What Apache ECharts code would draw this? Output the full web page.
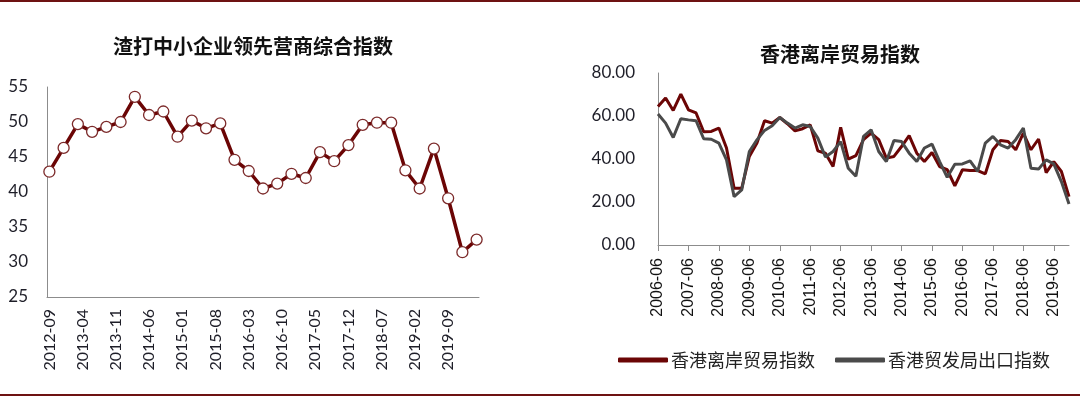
<!DOCTYPE html>
<html>
<head>
<meta charset="utf-8">
<script src="https://cdn.jsdelivr.net/npm/echarts@6/dist/echarts.min.js"></script>
<style>
  html, body { margin: 0; padding: 0; background: #fff; }
  #main { width: 1080px; height: 397px; }
</style>
</head>
<body>
<div id="main"></div>
<script>
// 渣打中小企业领先营商综合指数 (quarterly, first point 2012-09)
var smeStart = '2012-09';
var smeValues = [42.9, 46.3, 49.7, 48.6, 49.3, 50.0, 53.6, 51.0, 51.5, 47.9,
  50.2, 49.1, 49.8, 44.6, 43.0, 40.5, 41.2, 42.6, 42.0, 45.7,
  44.4, 46.7, 49.6, 49.9, 49.9, 43.1, 40.5, 46.2, 39.1, 31.4, 33.2];

// 香港离岸贸易指数 / 香港贸发局出口指数 (quarterly, first point 2006-06)
var hkStart = '2006-06';
var offshoreValues = [64.4, 68.4, 62.6, 70.2, 62.9, 61.4, 52.7, 52.8, 54.4, 45.1,
  26.4, 26.4, 41.2, 47.4, 57.8, 56.7, 59.3, 56.4, 53.1, 54.1,
  55.9, 43.8, 42.7, 36.5, 54.7, 39.9, 41.6, 49.0, 52.0, 49.0,
  40.4, 41.2, 45.8, 50.9, 42.7, 38.8, 43.0, 36.5, 35.0, 27.5,
  35.0, 34.6, 34.6, 33.1, 44.3, 48.6, 48.1, 44.3, 52.0, 44.3,
  49.3, 33.7, 38.8, 34.2, 22.5];
var exportValues = [60.9, 56.7, 50.0, 58.7, 58.2, 57.8, 49.4, 49.2, 47.4, 39.6,
  22.5, 25.6, 43.5, 48.9, 53.3, 55.5, 59.3, 56.7, 54.4, 55.9,
  55.1, 49.7, 40.9, 43.5, 48.1, 35.7, 32.0, 50.5, 53.6, 43.5,
  38.8, 48.6, 48.1, 42.7, 38.8, 45.1, 46.9, 38.8, 31.5, 37.6,
  37.7, 39.1, 34.2, 47.4, 50.5, 46.6, 45.1, 49.0, 54.4, 35.7,
  35.3, 39.6, 37.7, 29.5, 19.1];

var smeTitle = '渣打中小企业领先营商综合指数';
var hkTitle = '香港离岸贸易指数';
var seriesNames = ['香港离岸贸易指数', '香港贸发局出口指数'];

// month labels "YYYY-MM" starting at start, count items, step months
function months(start, count, step) {
  var y = +start.slice(0, 4), m = +start.slice(5, 7);
  var out = [];
  for (var i = 0; i < count; i++) {
    var t = (y * 12 + m - 1) + i * step;
    var mm = t % 12 + 1;
    out.push(Math.floor(t / 12) + '-' + (mm < 10 ? '0' + mm : mm));
  }
  return out;
}

// left chart: monthly slots, values only on quarter months
var smeMonths = months(smeStart, (smeValues.length - 1) * 3 + 1, 1);
var smeData = smeMonths.map(function () { return null; });
smeValues.forEach(function (v, i) { smeData[i * 3] = v; });

var hkQuarters = months(hkStart, offshoreValues.length, 3);

var red = '#6b0505';
var gray = '#4a4a4a';
var axisGray = '#8c8c8c';
var textColor = '#1e1e28';

var chart = echarts.init(document.getElementById('main'));
chart.setOption({
  animation: false,
  title: [{
    text: smeTitle,
    left: 248, top: 31, textAlign: 'center',
    textStyle: { fontFamily: 'Noto Sans CJK SC', fontSize: 20, fontWeight: 'bold', color: '#111' }
  }, {
    text: hkTitle,
    left: 835, top: 39, textAlign: 'center',
    textStyle: { fontFamily: 'Noto Sans CJK SC', fontSize: 20, fontWeight: 'bold', color: '#111' }
  }],
  legend: {
    data: seriesNames,
    left: 613, top: 346,
    itemWidth: 50, itemHeight: 5, itemGap: 20,
    icon: 'roundRect',
    textStyle: { fontFamily: 'Noto Sans CJK SC', fontSize: 18, color: '#222', padding: [0, 0, 0, -2] }
  },
  grid: [
    { left: 47, right: 601, top: 87, bottom: 100 },
    { left: 658, right: 11, top: 73, bottom: 152 }
  ],
  xAxis: [{
    type: 'category', gridIndex: 0, data: smeMonths, boundaryGap: true,
    axisLine: { lineStyle: { color: axisGray, width: 1 } },
    axisTick: { interval: 6, length: 6, lineStyle: { color: axisGray } },
    axisLabel: { interval: 6, rotate: 90, margin: 12, fontFamily: 'Lato', fontSize: 16, color: textColor }
  }, {
    type: 'category', gridIndex: 1, data: hkQuarters, boundaryGap: false,
    axisLine: { lineStyle: { color: axisGray, width: 1 } },
    axisTick: { interval: 3, length: 6, lineStyle: { color: axisGray } },
    axisLabel: { interval: 3, rotate: 90, margin: 13, fontFamily: 'Liberation Sans', fontSize: 16, color: '#111' }
  }],
  yAxis: [{
    type: 'value', gridIndex: 0, min: 25, max: 55, interval: 5,
    axisLine: { show: true, lineStyle: { color: axisGray } },
    axisTick: { show: false },
    splitLine: { show: false },
    axisLabel: { margin: 19, fontFamily: 'Lato', fontSize: 17, color: textColor }
  }, {
    type: 'value', gridIndex: 1, min: 0, max: 80, interval: 20,
    axisLine: { show: true, lineStyle: { color: axisGray } },
    axisTick: { show: false },
    splitLine: { show: false },
    axisLabel: {
      margin: 23, fontFamily: 'Lato', fontSize: 17, color: textColor,
      formatter: function (v) { return v.toFixed(2); }
    }
  }],
  series: [{
    name: smeTitle, type: 'line', xAxisIndex: 0, yAxisIndex: 0,
    data: smeData, connectNulls: true,
    symbol: 'circle', symbolSize: 11, showAllSymbol: true,
    lineStyle: { color: red, width: 3.5 },
    itemStyle: { color: '#fff', borderColor: '#7c2a2a', borderWidth: 1.3 }
  }, {
    name: seriesNames[0], type: 'line', xAxisIndex: 1, yAxisIndex: 1,
    data: offshoreValues, showSymbol: false,
    lineStyle: { color: red, width: 3 },
    itemStyle: { color: red }
  }, {
    name: seriesNames[1], type: 'line', xAxisIndex: 1, yAxisIndex: 1,
    data: exportValues, showSymbol: false,
    lineStyle: { color: gray, width: 3 },
    itemStyle: { color: gray }
  }],
  graphic: [{
    type: 'rect', shape: { x: 0, y: 0, width: 1080, height: 2 },
    style: { fill: '#6e1212' }
  }, {
    type: 'rect', shape: { x: 0, y: 394, width: 1080, height: 2 },
    style: { fill: '#6e1212' }
  }]
});
</script>
</body>
</html>
